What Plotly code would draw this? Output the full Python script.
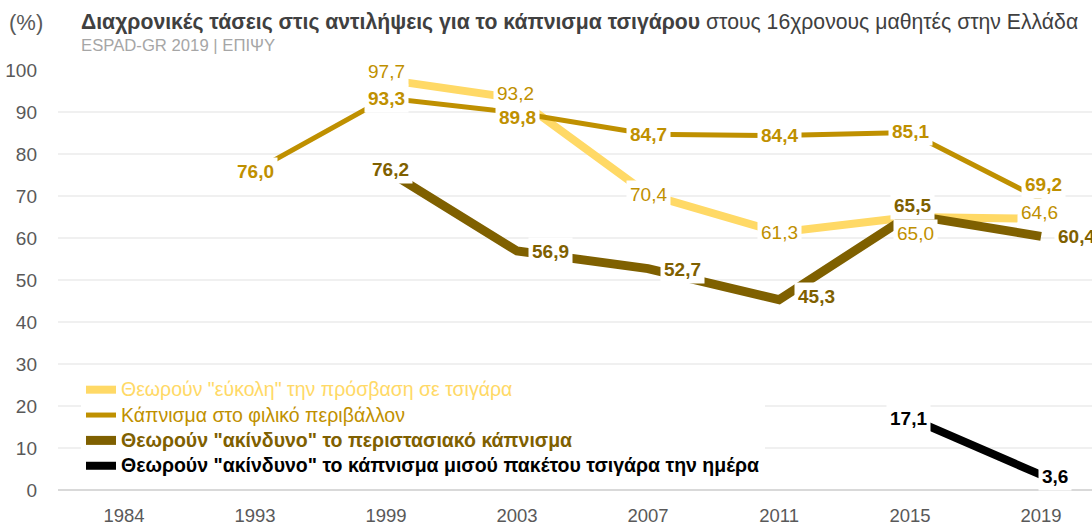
import plotly.graph_objects as go

years = ["1984", "1993", "1999", "2003", "2007", "2011", "2015", "2019"]

easy_access = [None, None, 97.7, 93.2, 70.4, 61.3, 65.0, 64.6]
friends_smoking = [None, 76.0, 93.3, 89.8, 84.7, 84.4, 85.1, 69.2]
harmless_occasional = [None, None, 76.2, 56.9, 52.7, 45.3, 65.5, 60.4]
harmless_half_pack = [None, None, None, None, None, None, 17.1, 3.6]

names = [
    'Θεωρούν "εύκολη" την πρόσβαση σε τσιγάρα',
    'Κάπνισμα στο φιλικό περιβάλλον',
    'Θεωρούν "ακίνδυνο" το περιστασιακό κάπνισμα',
    'Θεωρούν "ακίνδυνο" το κάπνισμα μισού πακέτου τσιγάρα την ημέρα',
]

title_bold = "Διαχρονικές τάσεις στις αντιλήψεις για το κάπνισμα τσιγάρου"
title_rest = " στους 16χρονους μαθητές στην Ελλάδα"
subtitle = "ESPAD-GR 2019 | ΕΠΙΨΥ"
unit = "(%)"

FONT = "Liberation Sans, Arial, sans-serif"

series = [
    dict(vals=easy_access, color="#FFD966", width=8, label_color="#BF9000", bold=False, legend_bold=False),
    dict(vals=friends_smoking, color="#BF9000", width=5, label_color="#BF9000", bold=True, legend_bold=False),
    dict(vals=harmless_occasional, color="#7F6000", width=9, label_color="#7F6000", bold=True, legend_bold=True),
    dict(vals=harmless_half_pack, color="#000000", width=8, label_color="#000000", bold=True, legend_bold=True),
]

# label offsets in pixels (xshift, yshift) per series, per year index
offsets = [
    {2: (0, 8), 3: (-2, 5), 4: (0, 0), 5: (0, 0), 6: (5, -16), 7: (-2, 6)},
    {1: (0, -1), 2: (0, 0), 3: (0, -5), 4: (0, 0), 5: (0, 0), 6: (0, 1), 7: (2, 15)},
    {2: (4, 0), 3: (33, 0), 4: (34, -1), 5: (37, 3), 6: (2, 9), 7: (35, 0)},
    {6: (-2, 0), 7: (14, -2)},
]

fig = go.Figure()
for s, nm in zip(series, names):
    legend_name = f'<span style="color:{s["color"]};font-size:19.5px">{nm}</span>'
    if s["legend_bold"]:
        legend_name = f"<b>{legend_name}</b>"
    fig.add_trace(go.Scatter(
        x=list(range(len(years))), y=s["vals"], mode="lines", name=legend_name,
        line=dict(color=s["color"], width=s["width"]),
        connectgaps=False, hoverinfo="skip",
    ))

annotations = []
for s, offs in zip(series, offsets):
    for i, v in enumerate(s["vals"]):
        if v is None:
            continue
        txt = f"{v:.1f}".replace(".", ",")
        if s["bold"]:
            txt = f"<b>{txt}</b>"
        dx, dy = offs.get(i, (0, 0))
        annotations.append(dict(
            x=i, y=v, xref="x", yref="y", text=txt, showarrow=False,
            xshift=dx, yshift=dy, bgcolor="white", borderpad=3,
            font=dict(family=FONT, size=19, color=s["label_color"]),
        ))

L, R, T, B = 58, 0, 70, 35
W, H = 1092, 525
pw, ph = W - L - R, H - T - B

def px_x(x):
    return (x - L) / pw

def px_y(y):
    return (H - B - y) / ph

annotations += [
    dict(xref="paper", yref="paper", x=px_x(7), y=px_y(23), xanchor="left", yanchor="middle",
         text=unit, showarrow=False, font=dict(family=FONT, size=22, color="#595959")),
    dict(xref="paper", yref="paper", x=px_x(79), y=px_y(22), xanchor="left", yanchor="middle",
         text=f"<b>{title_bold}</b>{title_rest}", showarrow=False,
         font=dict(family=FONT, size=21.2, color="#404040")),
    dict(xref="paper", yref="paper", x=px_x(79), y=px_y(45), xanchor="left", yanchor="middle",
         text=subtitle, showarrow=False, font=dict(family=FONT, size=16.7, color="#A6A6A6")),
]

fig.update_layout(
    width=W, height=H,
    margin=dict(l=L, r=R, t=T, b=B, pad=0),
    paper_bgcolor="white", plot_bgcolor="white",
    font=dict(family=FONT, color="#595959"),
    showlegend=True,
    legend=dict(
        x=px_x(81), y=px_y(372), xanchor="left", yanchor="top",
        bgcolor="white", borderwidth=0,
        font=dict(family=FONT, size=17.2),
        traceorder="normal",
    ),
    annotations=annotations,
    xaxis=dict(
        tickmode="array", tickvals=list(range(len(years))), ticktext=years,
        range=[-0.504, 7.389], showgrid=False, zeroline=False, showline=False,
        tickfont=dict(family=FONT, size=18.5, color="#595959"), ticks="",
        ticklabelstandoff=12,
    ),
    yaxis=dict(
        range=[0, 100], dtick=10, tick0=0,
        showgrid=True, gridcolor="#F0F0F0", gridwidth=2,
        zeroline=True, zerolinecolor="#D9D9D9", zerolinewidth=2,
        showline=False, ticks="",
        tickfont=dict(family=FONT, size=19, color="#595959"),
        ticklabelstandoff=20,
    ),
)

fig.write_html(
    "out.html",
    config={"displayModeBar": False},
    post_script="document.body.style.margin='0';document.body.style.overflow='hidden';",
)
